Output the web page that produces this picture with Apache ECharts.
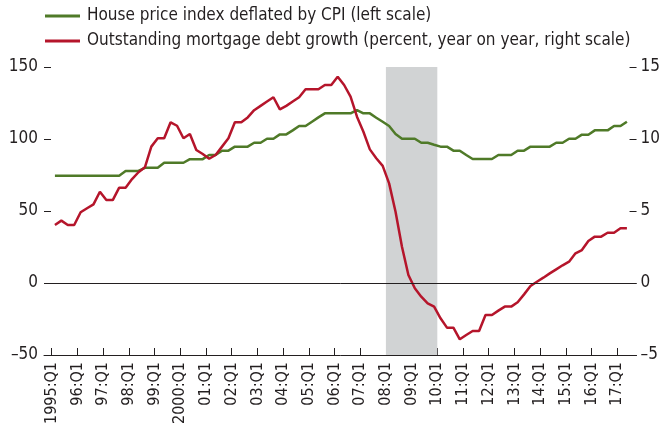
<!DOCTYPE html>
<html>
<head>
<meta charset="utf-8">
<script src="https://cdn.jsdelivr.net/npm/echarts@6/dist/echarts.min.js"></script>
<style>
  html, body { margin: 0; padding: 0; background: #ffffff; }
  #chart { width: 663px; height: 432px; }
</style>
</head>
<body>
<div id="chart"></div>
<script>
// ---- Data (quarterly, 1995:Q1 - 2017:Q2) ----
const firstYear = 1995;
const quarterCount = 90;
const tickLabels = ['1995:Q1','96:Q1','97:Q1','98:Q1','99:Q1','2000:Q1','01:Q1','02:Q1','03:Q1','04:Q1',
  '05:Q1','06:Q1','07:Q1','08:Q1','09:Q1','10:Q1','11:Q1','12:Q1','13:Q1','14:Q1','15:Q1','16:Q1','17:Q1'];

// House price index deflated by CPI (left scale)
const houseIndex = [
  74.5,74.5,74.5,74.5,74.5,74.5,74.5,74.5,74.5,74.5,74.5,
  77.8,77.8,77.8,
  80,80,80,
  83.5,83.5,83.5,83.5,
  86,86,86,
  88.9,88.9,
  91.9,91.9,
  94.7,94.7,94.7,
  97.4,97.4,
  100.2,100.2,
  103.2,103.2,
  106,
  109,109,
  112,
  115,
  117.8,117.8,117.8,117.8,117.8,
  120.1,
  117.8,117.8,
  114.8,
  112,
  109,
  103.5,
  100.2,100.2,100.2,
  97.4,97.4,
  96,
  94.7,94.7,
  91.9,91.9,
  88.9,
  86.1,86.1,86.1,86.1,
  88.9,88.9,88.9,
  91.9,91.9,
  94.7,94.7,94.7,94.7,
  97.4,97.4,
  100.2,100.2,
  103,103,
  106,106,106,
  109,109,
  112
];

// Outstanding mortgage debt growth, % y/y (right scale)
const mortgageGrowth = [
  4.03,4.33,4.03,4.03,4.91,5.19,5.46,6.34,5.76,5.76,
  6.62,6.62,7.22,7.69,8.03,9.47,10.05,10.05,11.16,10.92,
  10.05,10.35,9.24,8.96,8.63,8.89,9.47,10.05,11.16,11.16,
  11.5,12.0,12.3,12.6,12.9,12.06,12.3,12.6,12.9,13.45,
  13.45,13.45,13.75,13.75,14.33,13.75,12.94,11.55,10.5,9.28,
  8.66,8.13,6.92,4.95,2.52,0.56,-0.37,-0.95,-1.41,-1.64,
  -2.45,-3.1,-3.1,-3.91,-3.61,-3.33,-3.33,-2.22,-2.22,-1.92,
  -1.64,-1.64,-1.34,-0.79,-0.21,0.09,0.37,0.67,0.95,1.23,
  1.48,2.06,2.29,2.92,3.22,3.22,3.49,3.49,3.8,3.8
];

const recessionStart = '2008:Q1';
const recessionEnd = '2010:Q1';

// ---- Build categories ----
const quarters = [];
for (let i = 0; i < quarterCount; i++) {
  quarters.push((firstYear + Math.floor(i / 4)) + ':Q' + (i % 4 + 1));
}
// tick positions at the start of each Q1 band
const tickPositions = tickLabels.map((_, k) => quarters.indexOf((firstYear + k) + ':Q1'));
const labelByPos = {};
tickPositions.forEach((p, k) => { labelByPos[p] = tickLabels[k]; });

const toPoints = arr => arr.map((v, i) => [i + 0.5, v]);  // centre of each quarter band

const FONT = '"DejaVu Sans Condensed", "Liberation Sans", sans-serif';
const TEXT = '#231f20';
const GREEN = '#4f7a28';
const RED = '#b5152b';
const dash = v => String(v).replace('-', '\u2013');

const chart = echarts.init(document.getElementById('chart'), null, { renderer: 'canvas' });
chart.setOption({
  animation: false,
  backgroundColor: '#ffffff',
  grid: { left: 44, right: 25, top: 67, bottom: 77, containLabel: false },
  legend: {
    orient: 'vertical', left: 45, top: 7, padding: 0, itemGap: 7,
    itemWidth: 35, itemHeight: 3, icon: 'rect',
    textStyle: { fontFamily: FONT, fontSize: 17, lineHeight: 18, color: TEXT, padding: [0, 0, 0, 2] },
    data: ['House price index deflated by CPI (left scale)',
           'Outstanding mortgage debt growth (percent, year on year, right scale)']
  },
  xAxis: {
    type: 'value', min: -1.2, max: 91,
    splitLine: { show: false },
    axisLine: { show: true, onZero: false, lineStyle: { color: TEXT, width: 1 } },
    axisTick: { show: true, inside: true, length: 7, customValues: tickPositions, lineStyle: { color: TEXT, width: 1 } },
    axisLabel: {
      customValues: tickPositions, rotate: 90, margin: 7,
      fontFamily: FONT, fontSize: 16, color: TEXT,
      formatter: v => labelByPos[Math.round(v)] || ''
    }
  },
  yAxis: [
    {
      type: 'value', position: 'left', min: -50, max: 150, interval: 50,
      splitLine: { show: false },
      axisLine: { show: false, onZero: false },
      axisTick: { show: true, inside: true, length: 7, lineStyle: { color: TEXT, width: 1 } },
      axisLabel: { margin: 6, fontFamily: FONT, fontSize: 17, color: TEXT, formatter: dash }
    },
    {
      type: 'value', position: 'right', min: -5, max: 15, interval: 5,
      splitLine: { show: false },
      axisLine: { show: false, onZero: false },
      axisTick: { show: true, inside: true, length: 7, lineStyle: { color: TEXT, width: 1 } },
      axisLabel: { margin: 4, fontFamily: FONT, fontSize: 17, color: TEXT, formatter: dash }
    }
  ],
  series: [
    {
      name: 'House price index deflated by CPI (left scale)',
      type: 'line', yAxisIndex: 0, data: toPoints(houseIndex),
      showSymbol: false, symbol: 'none',
      lineStyle: { color: GREEN, width: 2.5 }, itemStyle: { color: GREEN },
      z: 3,
      markArea: {
        silent: true,
        itemStyle: { color: '#d1d3d4' },
        data: [[{ xAxis: quarters.indexOf(recessionStart) }, { xAxis: quarters.indexOf(recessionEnd) }]]
      },
      markLine: {
        silent: true, symbol: ['none', 'none'], label: { show: false },
        lineStyle: { color: TEXT, width: 1, type: 'solid' },
        data: [{ yAxis: 0 }]
      }
    },
    {
      name: 'Outstanding mortgage debt growth (percent, year on year, right scale)',
      type: 'line', yAxisIndex: 1, data: toPoints(mortgageGrowth),
      showSymbol: false, symbol: 'none',
      lineStyle: { color: RED, width: 2.5 }, itemStyle: { color: RED },
      z: 4
    }
  ]
});
</script>
</body>
</html>
